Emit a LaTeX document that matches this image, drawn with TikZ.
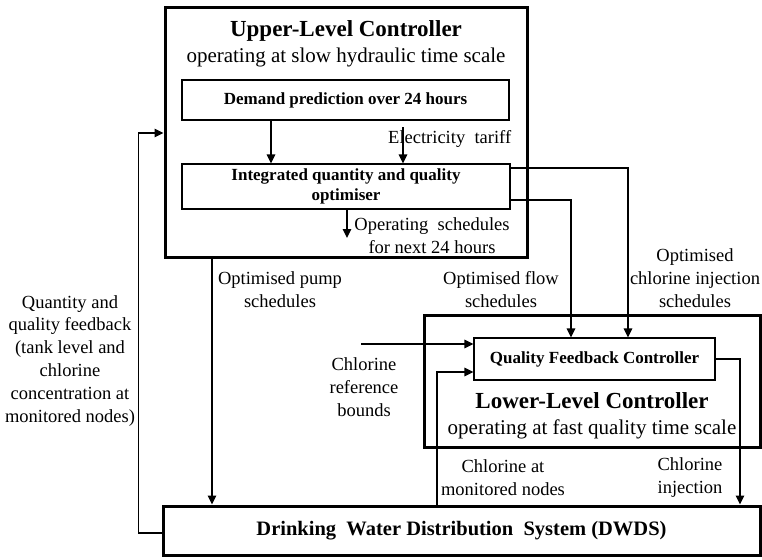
\documentclass[tikz,border=0pt]{standalone}
\usepackage{fontspec}
\setmainfont{Liberation Serif}
\usetikzlibrary{arrows.meta}
\begin{document}
\begin{tikzpicture}[x=1pt,y=-1pt,
  heavybox/.style={draw, line width=3pt, inner sep=0pt},
  innerbox/.style={draw, line width=1.1pt, inner sep=0pt, align=center,
    font=\fontsize{17}{19.5}\selectfont\bfseries},
  flow/.style={line width=1.4pt, -{Triangle[length=9pt,width=8.5pt]}},
  lbl/.style={inner sep=0pt, align=center, anchor=base,
    font=\fontsize{18.5}{23}\selectfont},
  title/.style={inner sep=0pt, anchor=base, font=\fontsize{23}{27}\selectfont\bfseries},
  subtitle/.style={inner sep=0pt, anchor=base, font=\fontsize{21}{25}\selectfont},
]
\useasboundingbox (0,0) rectangle (762,559);

% controller containers and the plant
\node[heavybox, minimum width=362pt, minimum height=249pt] (upper) at (346,132.5) {};
\node[heavybox, minimum width=336pt, minimum height=132pt] (lower) at (592,381) {};
\node[heavybox, minimum width=597pt, minimum height=49pt,
  font=\fontsize{20.5}{24}\selectfont\bfseries] (dwds) at (461.5,530.5)
  {Drinking\ \ Water Distribution\ \ System (DWDS)};

% blocks inside the controllers
\node[innerbox, minimum width=327pt, minimum height=40pt] (demand) at (345.5,100)
  {Demand prediction over 24 hours};
\node[innerbox, minimum width=328pt, minimum height=45pt] (optim) at (346,186.5)
  {Integrated quantity and quality\\optimiser};
\node[innerbox, minimum width=241pt, minimum height=42pt] (qfc) at (594.5,359)
  {Quality Feedback Controller};

% titles
\node[title] (uptitle) at (346,37) {Upper-Level Controller};
\node[subtitle] (upsub) at (346,63) {operating at slow hydraulic time scale};
\node[title] (lowtitle) at (592,408) {Lower-Level Controller};
\node[subtitle] (lowsub) at (592,434) {operating at fast quality time scale};

% free ends
\coordinate (tariff) at (403,127);
\coordinate (sched) at (347,238);
\coordinate (clref) at (361,344);

% signal flow
\draw[flow] (demand.south -| 271,0) -- (optim.north -| 271,0);
\draw[flow] (tariff) -- (optim.north -| tariff);
\draw[flow] (optim.south -| sched) -- (sched);
\draw[flow] (optim.east |- 0,168) -| (qfc.north -| 628,0);
\draw[flow] (optim.east |- 0,200) -| (qfc.north -| 571,0);
\draw[flow] (upper.south -| 212,0) -- (dwds.north -| 212,0);
\draw[flow] (dwds.west |- 0,533) -- ++(-23,0) |- (upper.west |- 0,133);
\draw[flow] (clref) -- (qfc.west |- clref);
\draw[flow] (dwds.north -| 437,0) |- (qfc.west |- 0,372);
\draw[flow] (qfc.east) -| (dwds.north -| 740,0);

% labels (base anchor sits on the last line)
\node[lbl, anchor=base west] (tarifflbl) at (388,143) {Electricity\ \ tariff};
\node[lbl] (schedlbl) at (432,253) {Operating\ \ schedules\\for next 24 hours};
\node[lbl] (pumplbl) at (280,307) {Optimised pump\\schedules};
\node[lbl] (flowlbl) at (501,307) {Optimised flow\\schedules};
\node[lbl] (cllbl) at (695,307) {Optimised\\chlorine injection\\schedules};
\node[lbl] (reflbl) at (364,416) {Chlorine\\reference\\bounds};
\node[lbl] (monlbl) at (503,495) {Chlorine at\\monitored nodes};
\node[lbl] (injlbl) at (690,493) {Chlorine\\injection};
\node[lbl, font=\fontsize{18.5}{22.8}\selectfont] (fbklbl) at (70,422)
  {Quantity and\\quality feedback\\(tank level and\\chlorine\\concentration at\\monitored nodes)};
\end{tikzpicture}
\end{document}
